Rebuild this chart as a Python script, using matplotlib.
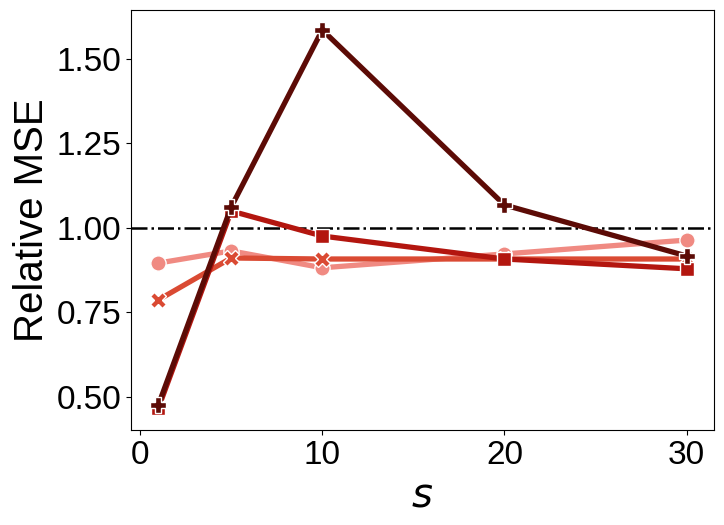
import matplotlib.pyplot as plt

plt.rcParams['font.family'] = ['Liberation Sans', 'DejaVu Sans']
plt.rcParams['mathtext.fontset'] = 'dejavusans'

s = [1, 5, 10, 20, 30]
mse_circle = [0.896, 0.932, 0.882, 0.923, 0.964]
mse_x = [0.787, 0.911, 0.908, 0.908, 0.908]
mse_square = [0.467, 1.050, 0.976, 0.908, 0.879]
mse_plus = [0.476, 1.062, 1.586, 1.068, 0.917]

series = [
    (mse_circle, 'o', '#f08a82', 11),
    (mse_x, 'X', '#da4a33', 11),
    (mse_square, 's', '#b3160f', 10),
    (mse_plus, 'P', '#5c0b06', 12),
]

fig, ax = plt.subplots(figsize=(7.24, 5.25), dpi=100)
for vals, mk, col, ms in series:
    ax.plot(s, vals, color=col, lw=3.8, marker=mk, markersize=ms,
            markeredgecolor='white', markeredgewidth=1)

ax.axhline(1.0, color='black', ls='-.', lw=1.8, zorder=0)

ax.set_xlim(-0.5, 31.5)
ax.set_ylim(0.402, 1.645)
ax.set_xticks([0, 10, 20, 30])
ax.set_yticks([0.5, 0.75, 1.0, 1.25, 1.5])
ax.set_yticklabels(['0.50', '0.75', '1.00', '1.25', '1.50'])
ax.tick_params(labelsize=24)
ax.set_xlabel('$s$', fontsize=29)
ax.set_ylabel('Relative MSE', fontsize=29)

fig.subplots_adjust(left=0.181, right=0.986, top=0.981, bottom=0.181)
fig.savefig('out.png', dpi=100)
